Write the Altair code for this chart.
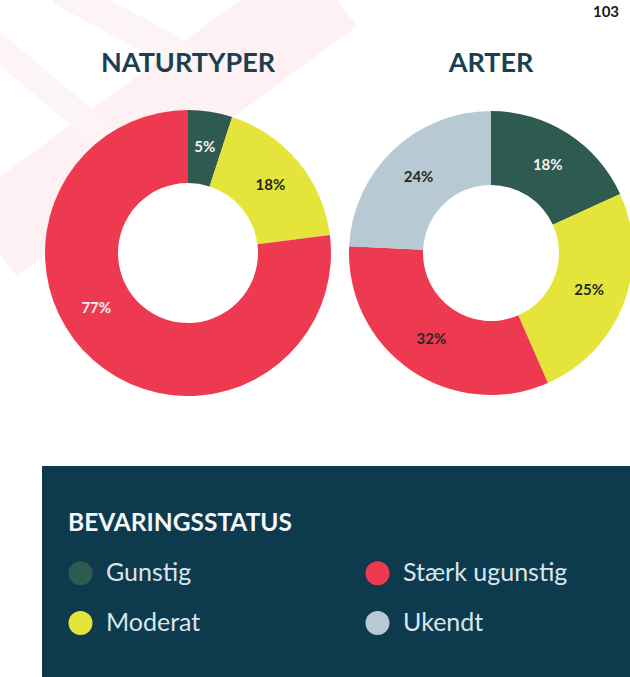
import altair as alt
import pandas as pd

# ---------------- data ----------------
categories = ["Gunstig", "Moderat", "Stærk ugunstig", "Ukendt"]
category_colors = ["#2e5a50", "#e5e43a", "#ee3a50", "#b7cad4"]
naturtyper_values = [5, 18, 77, 0]
arter_values = [18, 25, 32, 24]
panel_titles = ["NATURTYPER", "ARTER"]
legend_title = "BEVARINGSSTATUS"
page_number = "103"

# ---------------- style ----------------
TITLE_COLOR = "#1b3f50"
BOX_COLOR = "#0e3a4e"
LIGHT_TXT = "#f7f2f0"
DARK_TXT = "#1f2a22"
FONT = "Lato"

# label text colours (dark on light slices)
naturtyper_dark = [False, True, False, True]
arter_dark = [False, True, True, True]

color_scale = alt.Scale(domain=categories, range=category_colors)
legend = alt.Legend(
    title=legend_title, orient="none", legendX=68, legendY=512,
    columns=2, columnPadding=164, rowPadding=24,
    symbolType="circle", symbolSize=576, symbolStrokeWidth=0, symbolOpacity=1,
    labelFont=FONT, labelFontSize=25, labelColor="#d8e6ec", labelOffset=13, labelLimit=400,
    titleFont=FONT, titleFontSize=24.5, titleFontWeight="bold", titleColor="#f3f7f9",
    titlePadding=24, titleLimit=500, padding=0,
)


def donut(values, dark, cx, cy, R, r, label_r, shifts):
    rows = [
        dict(cat=c, value=v, ord=i, label=f"{v}%")
        for i, (c, v) in enumerate(zip(categories, values)) if v > 0
    ]
    df = pd.DataFrame(rows)
    total = float(sum(values))
    base = alt.Chart(df).transform_stack(
        stack="value", as_=["v0", "v1"], groupby=[],
        sort=[alt.SortField("ord", order="ascending")],
    ).transform_calculate(mid="(datum.v0 + datum.v1) / 2")
    tscale = alt.Scale(domain=[0, total])
    arcs = base.mark_arc(outerRadius=R, innerRadius=r).encode(
        theta=alt.Theta("v0:Q", scale=tscale, stack=False),
        theta2="v1:Q",
        color=alt.Color("cat:N", scale=color_scale, legend=legend),
        x=alt.value(cx), y=alt.value(cy),
    )
    layers = [arcs]
    for row in rows:
        i = row["ord"]
        dx, dy = shifts.get(row["cat"], (0, 0))
        t = base.transform_filter(alt.datum.cat == row["cat"]).mark_text(
            radius=label_r, font=FONT, fontSize=15, fontWeight="bold",
            color=DARK_TXT if dark[i] else LIGHT_TXT, dx=dx, dy=dy,
        ).encode(
            theta=alt.Theta("mid:Q", scale=tscale, stack=False),
            text="label:N",
            x=alt.value(cx), y=alt.value(cy),
        )
        layers.append(t)
    return layers


one = pd.DataFrame({"k": [0]})

# faint decorative pink bands in the background (top left)
deco = []
for (x1, y1, x2, y2, w, col) in [
    (330, -10, -10, 240, 90, "#fdf1f3"),
    (-10, 40, 120, 150, 26, "#fdf4f6"),
    (60, -10, 190, 60, 30, "#fdf4f6"),
]:
    deco.append(
        alt.Chart(one).mark_rule(color=col, strokeWidth=w).encode(
            x=alt.value(x1), y=alt.value(y1), x2=alt.value(x2), y2=alt.value(y2)
        )
    )

left = donut(naturtyper_values, naturtyper_dark, 188, 253, 143, 70, 107,
             {"Stærk ugunstig": (-21, -25)})
right = donut(arter_values, arter_dark, 491, 253, 142, 68, 105, {})

titles = [
    alt.Chart(one).mark_text(font=FONT, fontSize=27, fontWeight="bold", color=TITLE_COLOR,
                             align="center", baseline="middle").encode(
        x=alt.value(cx), y=alt.value(64), text=alt.value(t))
    for cx, t in zip([188, 491], panel_titles)
]

page = alt.Chart(one).mark_text(font=FONT, fontSize=15, fontWeight="bold", color="#1a1a1a",
                                align="center", baseline="alphabetic").encode(
    x=alt.value(606), y=alt.value(17), text=alt.value(page_number))

box = alt.Chart(one).mark_rect(color=BOX_COLOR).encode(
    x=alt.value(42), x2=alt.value(660), y=alt.value(466), y2=alt.value(700))

chart = alt.layer(*deco, *left, *right, *titles, page, box).resolve_scale(
    theta="independent"
).properties(
    width=630, height=677, padding=0, autosize=alt.AutoSizeParams(type="none"),
    background="white",
).configure_view(stroke=None)

chart.save("out.html", embed_options={"renderer": "svg", "actions": False})
